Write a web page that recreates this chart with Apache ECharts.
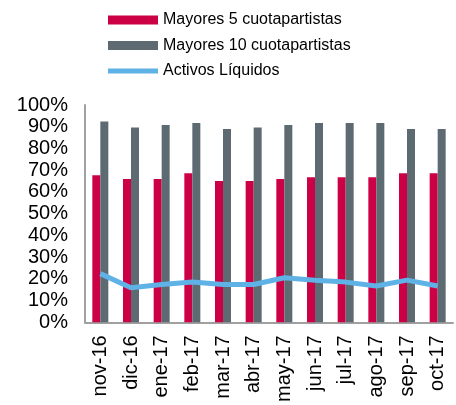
<!DOCTYPE html>
<html>
<head>
<meta charset="utf-8">
<script src="https://cdn.jsdelivr.net/npm/echarts@6/dist/echarts.min.js"></script>
<style>html,body{margin:0;padding:0;background:#fff}#c{width:456px;height:405px}</style>
</head>
<body>
<div id="c"></div>
<script>
const categories = ['nov-16','dic-16','ene-17','feb-17','mar-17','abr-17','may-17','jun-17','jul-17','ago-17','sep-17','oct-17'];
const mayores5 = [67.7, 65.9, 65.9, 68.6, 65.0, 65.0, 65.9, 66.8, 66.8, 66.8, 68.6, 68.6];
const mayores10 = [92.4, 89.7, 90.8, 91.7, 89.0, 89.7, 90.8, 91.7, 91.7, 91.7, 89.0, 89.0];
const activosLiquidos = [22.4, 15.9, 17.4, 18.6, 17.4, 17.4, 20.5, 19.4, 18.5, 16.7, 19.4, 16.7];
const seriesNames = ['Mayores 5 cuotapartistas', 'Mayores 10 cuotapartistas', 'Activos Líquidos'];

const chart = echarts.init(document.getElementById('c'), null, {renderer: 'canvas'});
const font = 'Liberation Sans, Arial, sans-serif';
chart.setOption({
  animation: false,
  textStyle: {fontFamily: font},
  legend: {
    orient: 'vertical',
    left: 103,
    top: 7,
    itemWidth: 50,
    itemHeight: 9,
    itemGap: 9.5,
    textStyle: {fontSize: 16, color: '#000', fontFamily: font, lineHeight: 16},
    data: [
      {name: seriesNames[0], icon: 'rect'},
      {name: seriesNames[1], icon: 'rect'},
      {name: seriesNames[2], icon: 'path://M0,0 L50,0 L50,5 L0,5 Z'}
    ]
  },
  grid: {left: 85, right: 3, top: 105, bottom: 80, containLabel: false},
  xAxis: {
    type: 'category',
    data: categories,
    axisLine: {lineStyle: {color: '#a0a0a0', width: 2}},
    axisTick: {show: false},
    axisLabel: {rotate: 90, fontSize: 20, color: '#000', margin: 13, interval: 0, fontFamily: font}
  },
  yAxis: {
    type: 'value',
    min: 0, max: 100, interval: 10,
    axisLine: {show: true, lineStyle: {color: '#a0a0a0', width: 2}},
    axisTick: {show: false},
    splitLine: {show: false},
    axisLabel: {formatter: '{value}%', fontSize: 20, color: '#000', margin: 17, fontFamily: font}
  },
  series: [
    {name: seriesNames[0], type: 'bar', data: mayores5, barWidth: 8, barGap: '0%',
     itemStyle: {color: '#CC0044'}},
    {name: seriesNames[1], type: 'bar', data: mayores10, barWidth: 8, barGap: '0%',
     itemStyle: {color: '#5E6A72'}},
    {name: seriesNames[2], type: 'line', data: activosLiquidos, symbol: 'none',
     lineStyle: {color: '#5FB2E6', width: 5}, itemStyle: {color: '#5FB2E6'}}
  ]
});
</script>
</body>
</html>
